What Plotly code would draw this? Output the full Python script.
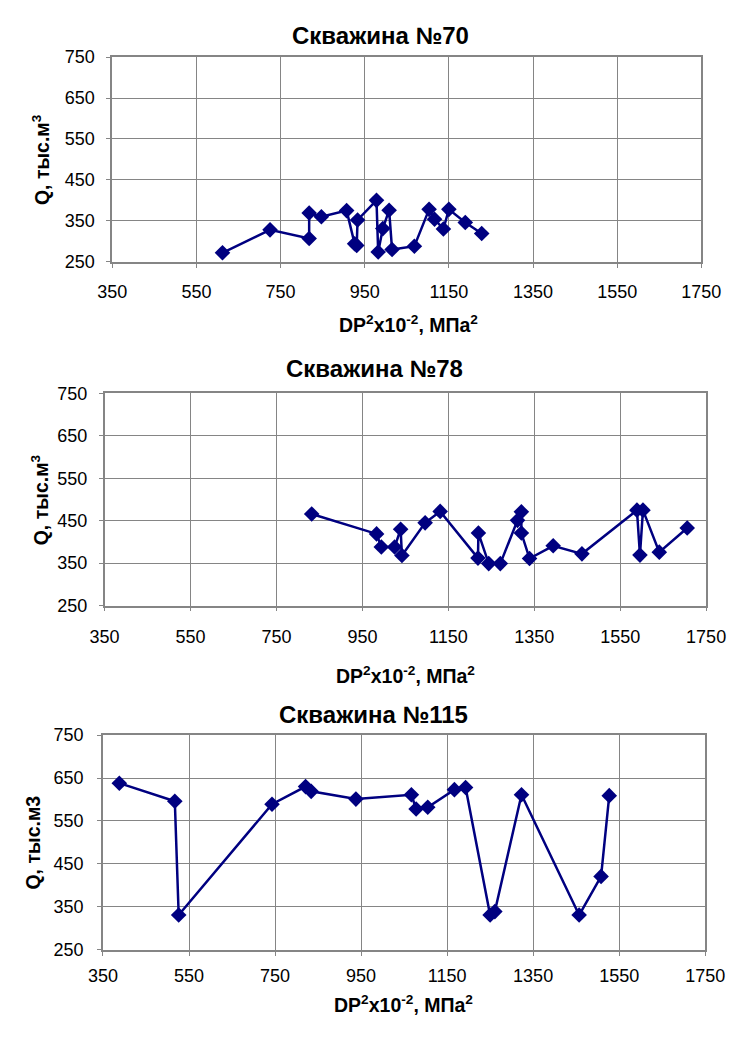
import plotly.graph_objects as go

# ---- data ----
x70 = [612, 725, 818, 818, 847, 907, 926, 931, 933, 978, 982, 993, 1008, 1015, 1068, 1103, 1116, 1137, 1150, 1189, 1228]
q70 = [272, 328, 307, 369, 360, 375, 294, 290, 352, 400, 274, 331, 376, 280, 288, 378, 354, 330, 378, 346, 319]

x78 = [832, 983, 994, 1025, 1039, 1042, 1096, 1131, 1219, 1220, 1244, 1271, 1311, 1320, 1320, 1339, 1394, 1461, 1589, 1596, 1603, 1641, 1706]
q78 = [466, 419, 388, 388, 430, 368, 445, 472, 362, 421, 349, 349, 451, 471, 421, 361, 391, 372, 475, 369, 475, 376, 433]

x115 = [388, 517, 526, 743, 821, 834, 938, 1067, 1078, 1105, 1167, 1193, 1250, 1261, 1323, 1457, 1508, 1527]
q115 = [638, 596, 331, 589, 630, 619, 601, 611, 578, 582, 623, 628, 331, 339, 611, 331, 421, 609]

titles = ["Скважина №70", "Скважина №78", "Скважина №115"]
ytitles = ["Q, тыс.м<sup>3</sup>", "Q, тыс.м<sup>3</sup>", "Q, тыс.м3"]
xtitle = "DP<sup>2</sup>x10<sup>-2</sup>, МПа<sup>2</sup>"
xticks = [350, 550, 750, 950, 1150, 1350, 1550, 1750]
yticks = [250, 350, 450, 550, 650, 750]

W, H = 749, 1039
# plot boxes in pixels: left, right, top, bottom
boxes = [(102, 720, 48, 256.7), (94, 725, 391, 607.3), (92.3, 724, 739.3, 958.3)]
title_pos = [(383, 26), (377, 366), (376, 718)]
xtitle_pos = [(413, 320), (410, 678), (408, 1013)]
ytitle_x = [28, 26, 19]
x_standoff = [9, 10, 5]
y_standoff = [8, 8, 10]

navy = "#000080"
grid = "#858585"
tickfont = dict(family="Liberation Sans, Arial", size=18, color="black")
boldfont = dict(family="Liberation Sans, Arial", size=19.5, color="black")

fig = go.Figure()
datasets = [(x70, q70), (x78, q78), (x115, q115)]
annotations = []
for i, ((xs, ys), (l, r, t, b)) in enumerate(zip(datasets, boxes)):
    sfx = "" if i == 0 else str(i + 1)
    fig.add_trace(go.Scatter(
        x=xs, y=ys, mode="lines+markers",
        xaxis="x" + sfx, yaxis="y" + sfx,
        line=dict(color=navy, width=2.5),
        marker=dict(symbol="diamond", size=12, color=navy),
        showlegend=False,
    ))
    xa = dict(domain=[l / W, r / W], anchor="y" + sfx, range=[350, 1750],
              tickvals=xticks, ticktext=[str(v) for v in xticks],
              showgrid=True, gridcolor=grid, gridwidth=1.3,
              showline=True, linecolor=grid, linewidth=1.5, mirror=True,
              ticks="outside", ticklen=4, tickcolor=grid,
              ticklabelstandoff=x_standoff[i],
              tickfont=tickfont, zeroline=False, fixedrange=True)
    ya = dict(domain=[1 - b / H, 1 - t / H], anchor="x" + sfx, range=[250, 750],
              tickvals=yticks, ticktext=[str(v) for v in yticks],
              showgrid=True, gridcolor=grid, gridwidth=1.3,
              showline=True, linecolor=grid, linewidth=1.5, mirror=True,
              ticks="outside", ticklen=4, tickcolor=grid,
              ticklabelstandoff=y_standoff[i],
              tickfont=tickfont, zeroline=False, fixedrange=True)
    fig.update_layout(**{"xaxis" + sfx: xa, "yaxis" + sfx: ya})
    annotations.append(dict(text="<b>" + titles[i] + "</b>",
                            x=title_pos[i][0] / W, y=1 - title_pos[i][1] / H,
                            xref="paper", yref="paper", showarrow=False,
                            xanchor="center", yanchor="middle",
                            font=dict(family="Liberation Sans, Arial", size=24, color="black")))
    annotations.append(dict(text="<b>" + xtitle + "</b>",
                            x=xtitle_pos[i][0] / W, y=1 - xtitle_pos[i][1] / H,
                            xref="paper", yref="paper", showarrow=False,
                            xanchor="center", yanchor="middle", font=boldfont))
    annotations.append(dict(text="<b>" + ytitles[i] + "</b>", x=ytitle_x[i] / W, y=1 - (t + b) / 2 / H,
                            xref="paper", yref="paper", showarrow=False, textangle=-90,
                            xanchor="center", yanchor="middle", font=boldfont))

fig.update_layout(width=W, height=H, margin=dict(l=0, r=0, t=0, b=0),
                  paper_bgcolor="white", plot_bgcolor="white",
                  annotations=annotations)
fig.write_html("out.html")
